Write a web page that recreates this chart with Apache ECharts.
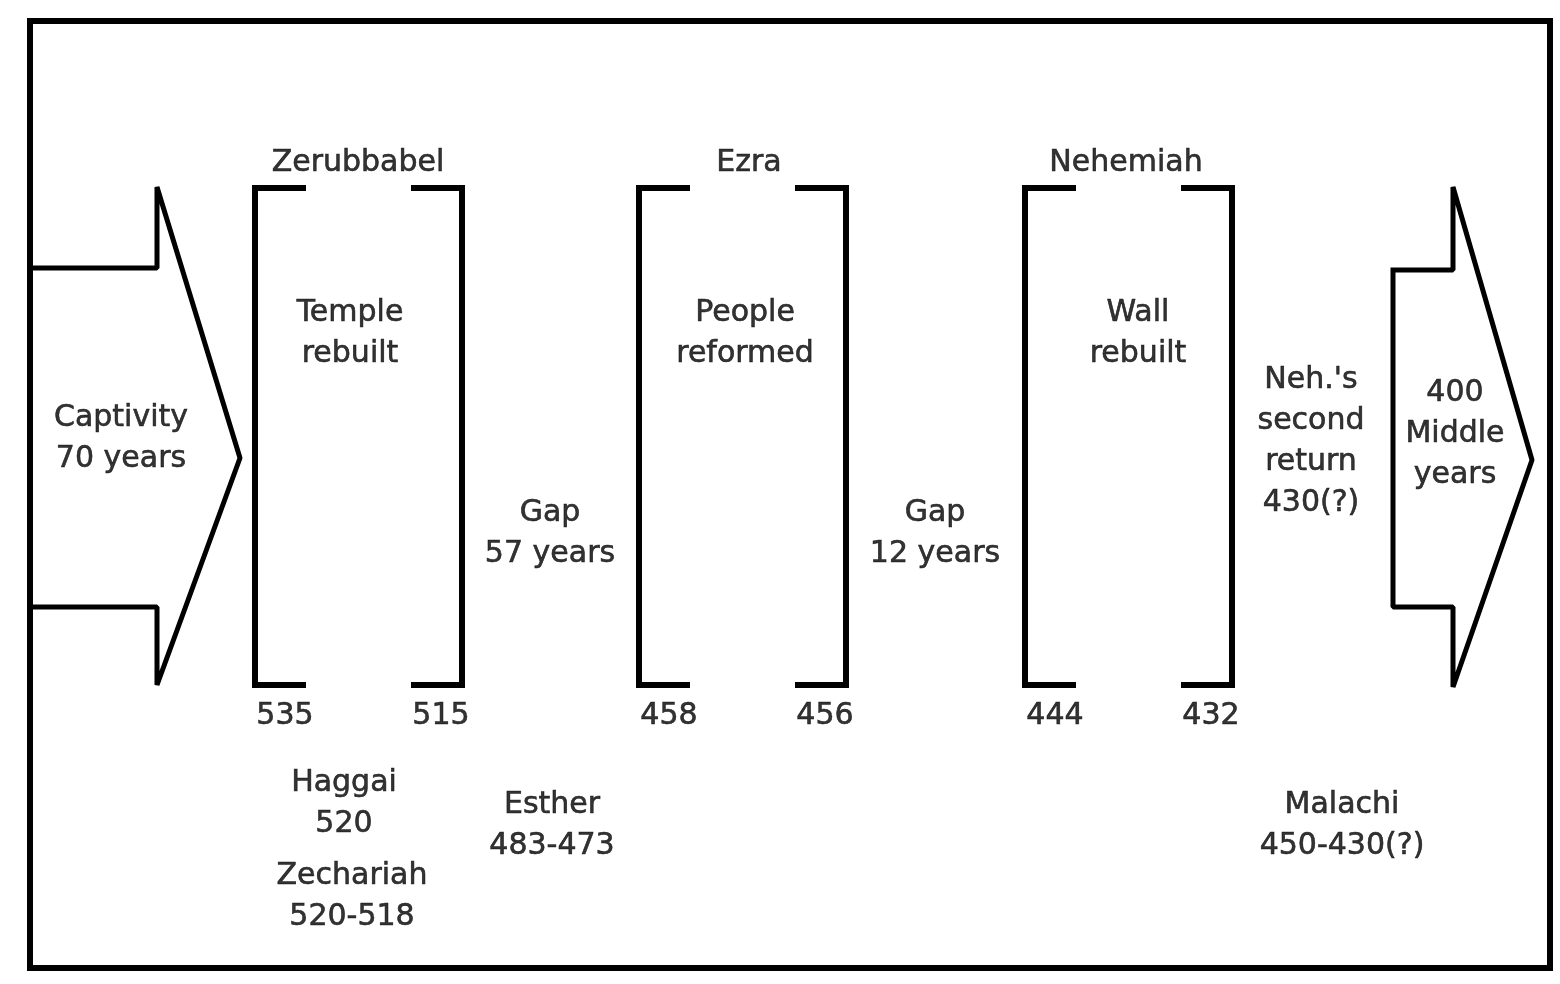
<!DOCTYPE html>
<html>
<head>
<meta charset="utf-8">
<title>Post-exile timeline</title>
<script src="https://cdn.jsdelivr.net/npm/echarts@6/dist/echarts.min.js"></script>
<style>
  html, body { margin: 0; padding: 0; background: #fff; }
  #main { width: 1560px; height: 984px; }
</style>
</head>
<body>
<div id="main"></div>
<script>
// --- data ---
const leaders = ['Zerubbabel', 'Ezra', 'Nehemiah'];
const works = ['Temple\nrebuilt', 'People\nreformed', 'Wall\nrebuilt'];
const startYears = [535, 458, 444];
const endYears = [515, 456, 432];
const gapLabels = ['Gap\n57 years', 'Gap\n12 years'];
const books = ['Haggai\n520', 'Zechariah\n520-518', 'Esther\n483-473', 'Malachi\n450-430(?)'];
const captivityLabel = 'Captivity\n70 years';
const middleLabel = '400\nMiddle\nyears';
const returnLabel = "Neh.'s\nsecond\nreturn\n430(?)";

// --- layout (diagram units = pixels of the 1560x984 canvas) ---
const frame = { left: 30, top: 21, right: 1550, bottom: 968 };
const bracketLeft = [255, 639, 1025];
const bracketWidth = 207;
const bracketTop = 188;
const bracketBottom = 685;
const stub = 48;
const titleX = [358, 749, 1126];
const titleY = 163;
const workX = [350, 745, 1138];
const workY = 334;
const yearY = 716;
const gapX = [550, 935];
const gapY = 534;
const bookPos = [[344, 804], [352, 897], [552, 826], [1342, 826]];
const leftArrow = { x0: frame.left, neck: 157, tip: 240, shaftTop: 268, shaftBottom: 607, headTop: 187, headBottom: 685, tipY: 458 };
const rightArrow = { x0: 1393, neck: 1453, tip: 1532, shaftTop: 270, shaftBottom: 607, headTop: 187, headBottom: 687, tipY: 460 };

const chart = echarts.init(document.getElementById('main'));

function poly(points, width, join) {
  return {
    type: 'line',
    data: points,
    symbol: 'none',
    silent: true,
    animation: false,
    lineStyle: { color: '#000', width: width, cap: 'square', join: join || 'miter' }
  };
}

function arrowPoints(a, closed) {
  const pts = [
    [a.x0, a.shaftTop], [a.neck, a.shaftTop], [a.neck, a.headTop],
    [a.tip, a.tipY],
    [a.neck, a.headBottom], [a.neck, a.shaftBottom], [a.x0, a.shaftBottom]
  ];
  if (closed) pts.push([a.x0, a.shaftTop]);
  return pts;
}

const series = [];

// outer frame
series.push(poly([
  [frame.left, frame.top], [frame.right, frame.top],
  [frame.right, frame.bottom], [frame.left, frame.bottom], [frame.left, frame.top]
], 6));

// arrows
series.push(poly(arrowPoints(leftArrow, false), 5, 'bevel'));
series.push(poly(arrowPoints(rightArrow, true), 5, 'bevel'));

// brackets
bracketLeft.forEach(function (l) {
  const r = l + bracketWidth;
  series.push(poly([[l + stub, bracketTop], [l, bracketTop], [l, bracketBottom], [l + stub, bracketBottom]], 6));
  series.push(poly([[r - stub, bracketTop], [r, bracketTop], [r, bracketBottom], [r - stub, bracketBottom]], 6));
});

// text labels
const texts = [];
leaders.forEach(function (name, i) {
  texts.push({ value: [titleX[i], titleY], name: name });
  texts.push({ value: [workX[i], workY], name: works[i] });
  texts.push({ value: [bracketLeft[i] + 30, yearY], name: String(startYears[i]) });
  texts.push({ value: [bracketLeft[i] + bracketWidth - 21, yearY], name: String(endYears[i]) });
});
gapLabels.forEach(function (g, i) {
  texts.push({ value: [gapX[i], gapY], name: g });
});
books.forEach(function (b, i) {
  texts.push({ value: bookPos[i], name: b });
});
texts.push({ value: [121, 439], name: captivityLabel });
texts.push({ value: [1455, 434], name: middleLabel });
texts.push({ value: [1311, 442], name: returnLabel });

series.push({
  type: 'scatter',
  data: texts,
  symbolSize: 0,
  silent: true,
  animation: false,
  label: {
    show: true,
    position: 'inside',
    formatter: function (p) { return p.name; },
    color: '#000000',
    textBorderColor: '#000000',
    textBorderWidth: 0.6,
    fontFamily: 'DejaVu Sans',
    fontWeight: 'normal',
    fontSize: 30,
    lineHeight: 41,
    align: 'center',
    verticalAlign: 'middle'
  }
});

chart.setOption({
  backgroundColor: '#fff',
  grid: { left: 0, right: 0, top: 0, bottom: 0 },
  xAxis: { type: 'value', min: 0, max: 1560, show: false },
  yAxis: { type: 'value', min: 0, max: 984, inverse: true, show: false },
  series: series
});
</script>
</body>
</html>
